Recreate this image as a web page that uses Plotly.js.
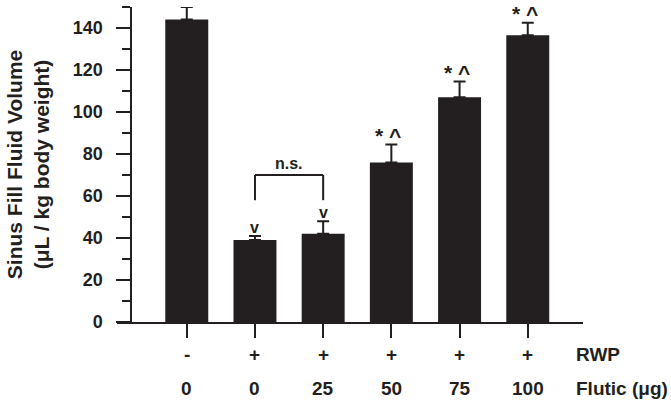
<!DOCTYPE html>
<html>
<head>
<meta charset="utf-8">
<script src="https://cdn.plot.ly/plotly-3.0.1.min.js"></script>
<style>html,body{margin:0;padding:0;background:#fff;}#chart{width:671px;height:402px;}</style>
</head>
<body>
<div id="chart"></div>
<script>
// ---- data ----
const categories = ['-|0', '+|0', '+|25', '+|50', '+|75', '+|100'];
const rwpLabels = ['-', '+', '+', '+', '+', '+'];
const fluticLabels = ['0', '0', '25', '50', '75', '100'];
const fluidVolume = [144, 39, 42, 76, 107, 136.5];
const fluidSEM = [6, 2, 6, 8.5, 7.5, 6];
const sigLabels = ['', 'v', 'v', '* ^', '* ^', '* ^'];
const rowTitles = ['RWP', 'Flutic (\u03bcg)'];
const yTitle = 'Sinus Fill Fluid Volume<br>(\u03bcL / kg body weight)';
const nsPair = [1, 2];
const nsLabel = 'n.s.';

// ---- style ----
const ink = '#231f20';
const fam = 'Liberation Sans, Arial, sans-serif';

const trace = {
  type: 'bar',
  x: categories,
  y: fluidVolume,
  width: 0.63,
  marker: {color: ink, line: {width: 0}},
  error_y: {
    type: 'data', symmetric: false,
    array: fluidSEM, arrayminus: fluidSEM.map(() => 0),
    width: 6, thickness: 2, color: ink
  },
  hoverinfo: 'skip'
};

const annotations = [];
categories.forEach((c, i) => {
  annotations.push({xref: 'x', yref: 'paper', x: c, y: -0.103, text: rwpLabels[i],
    showarrow: false, xanchor: 'center', yanchor: 'middle',
    font: {family: fam, size: 19, color: ink, weight: 'bold'}});
  annotations.push({xref: 'x', yref: 'paper', x: c, y: -0.211, text: fluticLabels[i],
    showarrow: false, xanchor: 'center', yanchor: 'middle',
    font: {family: fam, size: 19, color: ink, weight: 'bold'}});
  if (sigLabels[i]) {
    const isV = sigLabels[i] === 'v';
    annotations.push({xref: 'x', yref: 'y', x: c, y: fluidVolume[i] + fluidSEM[i],
      text: sigLabels[i], showarrow: false, xanchor: 'center', yanchor: 'bottom',
      xshift: isV ? 0 : -3, yshift: isV ? -1 : -3, borderpad: 0,
      font: {family: fam, size: isV ? 16 : 21, color: ink, weight: 'bold'}});
  }
});
annotations.push({xref: 'paper', yref: 'paper', x: 0.981, y: -0.103, text: rowTitles[0],
  showarrow: false, xanchor: 'left', yanchor: 'middle',
  font: {family: fam, size: 19, color: ink, weight: 'bold'}});
annotations.push({xref: 'paper', yref: 'paper', x: 0.981, y: -0.211, text: rowTitles[1],
  showarrow: false, xanchor: 'left', yanchor: 'middle',
  font: {family: fam, size: 19, color: ink, weight: 'bold'}});

// n.s. bracket, placed relative to the pair's error-bar tops
const pairTop = Math.max(fluidVolume[nsPair[0]] + fluidSEM[nsPair[0]], fluidVolume[nsPair[1]] + fluidSEM[nsPair[1]]);
const legBottom = pairTop + 10;
const legTop = pairTop + 22;
annotations.push({xref: 'x', yref: 'y', x: (nsPair[0] + nsPair[1]) / 2, y: legTop, text: nsLabel, showarrow: false,
  xanchor: 'center', yanchor: 'bottom', yshift: 1,
  font: {family: fam, size: 16, color: ink, weight: 'bold'}});

const layout = {
  width: 671, height: 402,
  margin: {l: 117, r: 88, t: 7, b: 80},
  paper_bgcolor: '#fff', plot_bgcolor: '#fff',
  showlegend: false,
  font: {family: fam, color: ink},
  xaxis: {
    type: 'category', range: [-1.023, 5.81],
    showline: true, linecolor: ink, linewidth: 2,
    ticks: 'outside', ticklen: 14, tickwidth: 2, tickcolor: ink,
    showticklabels: false, showgrid: false, zeroline: false, fixedrange: true
  },
  yaxis: {
    range: [0, 150], anchor: 'free', position: 0.031,
    showline: true, linecolor: ink, linewidth: 2,
    ticks: 'outside', ticklen: 14, tickwidth: 2, tickcolor: ink,
    dtick: 20, tick0: 0, ticklabelstandoff: 10,
    minor: {dtick: 10, ticks: 'outside', ticklen: 8, tickwidth: 2, tickcolor: ink},
    tickfont: {family: fam, size: 18, color: ink, weight: 'bold'},
    showgrid: false, zeroline: false, fixedrange: true,
    title: {text: yTitle, standoff: 16, font: {family: fam, size: 21, color: ink, weight: 'bold'}}
  },
  annotations: annotations,
  shapes: [{
    type: 'line', xref: 'x', yref: 'y', x0: nsPair[0], x1: nsPair[0], y0: legBottom, y1: legTop,
    line: {color: ink, width: 2}
  }, {
    type: 'line', xref: 'x', yref: 'y', x0: nsPair[0], x1: nsPair[1], y0: legTop, y1: legTop,
    line: {color: ink, width: 2}
  }, {
    type: 'line', xref: 'x', yref: 'y', x0: nsPair[1], x1: nsPair[1], y0: legBottom, y1: legTop,
    line: {color: ink, width: 2}
  }]
};

Plotly.newPlot('chart', [trace], layout, {staticPlot: true, displayModeBar: false});
</script>
</body>
</html>
